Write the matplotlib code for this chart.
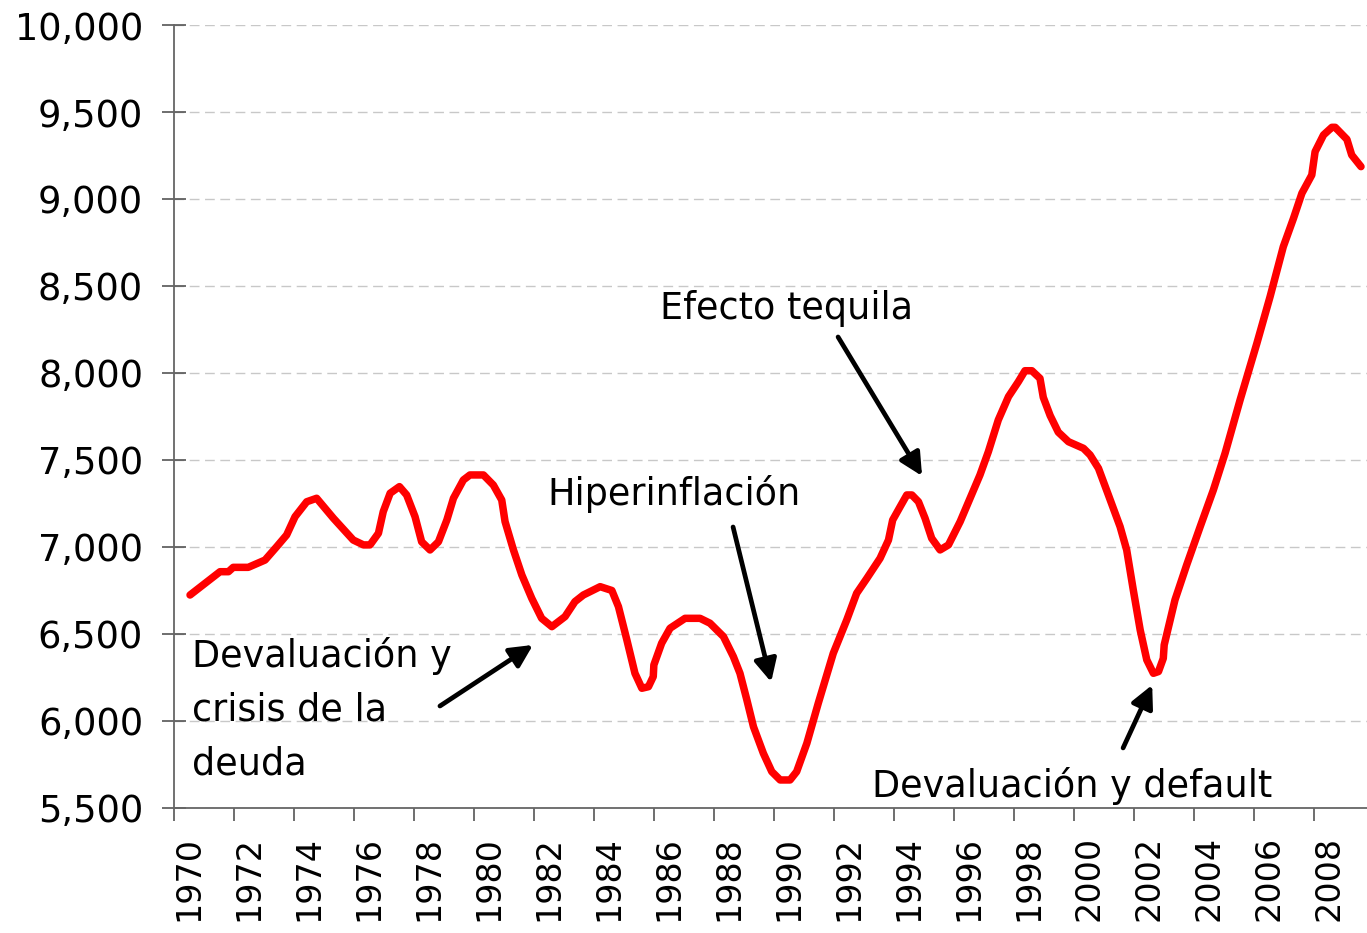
import matplotlib
matplotlib.use("Agg")
import matplotlib.pyplot as plt

plt.rcParams['font.family'] = ['DejaVu Sans']

# Data (year position, value)
years = [1970.00, 1971.00, 1971.28, 1971.44, 1971.94, 1972.50, 1972.89, 1973.22,
         1973.50, 1973.89, 1974.22, 1974.78, 1975.44, 1975.78, 1976.00, 1976.28,
         1976.44, 1976.67, 1976.98, 1977.22, 1977.50, 1977.72, 1978.00, 1978.28,
         1978.56, 1978.78, 1979.11, 1979.33, 1979.78, 1980.11, 1980.39, 1980.50,
         1980.78, 1981.06, 1981.39, 1981.72, 1982.06, 1982.50, 1982.83, 1983.11,
         1983.67, 1984.06, 1984.28, 1984.56, 1984.83, 1985.06, 1985.28, 1985.44,
         1985.46, 1985.72, 1986.00, 1986.50, 1987.00, 1987.33, 1987.78, 1988.11,
         1988.33, 1988.56, 1988.78, 1989.11, 1989.39, 1989.67, 1990.00, 1990.22,
         1990.56, 1990.94, 1991.44, 1991.89, 1992.22, 1992.56, 1993.00, 1993.28,
         1993.42, 1993.67, 1993.89, 1994.06, 1994.28, 1994.50, 1994.72, 1995.00,
         1995.28, 1995.67, 1996.00, 1996.33, 1996.61, 1996.94, 1997.28, 1997.61,
         1997.83, 1998.06, 1998.33, 1998.44, 1998.67, 1998.94, 1999.28, 1999.78,
         2000.00, 2000.28, 2000.61, 2001.00, 2001.22, 2001.44, 2001.67, 2001.89,
         2002.11, 2002.28, 2002.44, 2002.47, 2002.83, 2003.22, 2003.67, 2004.11,
         2004.50, 2005.00, 2005.56, 2006.00, 2006.44, 2006.78, 2007.06, 2007.39,
         2007.50, 2007.78, 2008.06, 2008.17, 2008.56, 2008.72, 2009.03]
values = [6724, 6858, 6858, 6883, 6883, 6925, 7002, 7069,
          7174, 7260, 7280, 7165, 7040, 7012, 7012, 7079,
          7203, 7309, 7347, 7299, 7174, 7030, 6983, 7030,
          7155, 7280, 7385, 7414, 7414, 7356, 7270, 7146,
          6983, 6839, 6705, 6590, 6542, 6600, 6686, 6724,
          6772, 6750, 6657, 6466, 6274, 6188, 6197, 6255,
          6322, 6447, 6533, 6590, 6590, 6562, 6485, 6370,
          6274, 6121, 5967, 5814, 5709, 5661, 5661, 5709,
          5872, 6102, 6389, 6581, 6734, 6820, 6935, 7040,
          7155, 7232, 7299, 7299, 7260, 7165, 7050, 6983,
          7012, 7146, 7280, 7414, 7548, 7730, 7864, 7950,
          8013, 8013, 7969, 7860, 7755, 7660, 7605, 7567,
          7529, 7452, 7299, 7117, 6983, 6753, 6523, 6351,
          6274, 6284, 6360, 6437, 6696, 6897, 7117, 7328,
          7539, 7845, 8171, 8439, 8726, 8889, 9033, 9138,
          9272, 9368, 9412, 9412, 9343, 9253, 9186]

tick_years = list(range(1970, 2009, 2))
tick_labels = [str(y) for y in tick_years]
y_ticks = list(range(5500, 10001, 500))

# (text, left x, first-line baseline, arrow start, arrow tip)
annotations = [
    ("Efecto tequila", 1985.67, 8310, (1991.6, 8207), (1994.4, 7408)),
    ("Hiperinflación", 1981.9, 7241, (1988.1, 7115), (1989.37, 6224)),
    ("Devaluación y\ncrisis de la\ndeuda", 1970.07, 6310, (1978.33, 6086), (1981.43, 6437)),
    ("Devaluación y default", 1992.73, 5563, (2001.1, 5845), (2002.07, 6207)),
]
LINE_STEP = 308  # value units between baselines of stacked lines

fig = plt.figure(figsize=(13.67, 9.33), dpi=100)
ax = fig.add_axes([0.1276, 0.134, 1.0 - 0.1276, 0.9732 - 0.134])

ax.plot(years, values, color='#FF0000', lw=5.4, solid_joinstyle='round',
        solid_capstyle='round', zorder=3)

ax.set_xlim(1969.48, 2009.23)
ax.set_ylim(5500, 10000)

# y axis
ax.set_yticks(y_ticks)
ax.set_yticklabels([f"{v:,}" for v in y_ticks])
ax.tick_params(axis='y', direction='inout', length=17, width=1.2, color='#555555',
               labelsize=26.5, labelcolor='black', pad=14)
ax.yaxis.grid(True, color='#C8C8C8', linestyle=(0, (7, 4)), linewidth=1.0, zorder=0)

# x axis: labels at years, tick marks offset between
ax.set_xticks([y - 0.05 for y in tick_years])
ax.set_xticklabels(tick_labels, rotation=90)
ax.tick_params(axis='x', length=0, labelsize=24, labelcolor='black', pad=20)
ax.set_xticks([y - 0.52 for y in tick_years], minor=True)
ax.tick_params(axis='x', which='minor', direction='out', length=9.5, width=1.2,
               color='#555555')

for side in ['top', 'right']:
    ax.spines[side].set_visible(False)
for side in ['left', 'bottom']:
    ax.spines[side].set_color('#666666')
    ax.spines[side].set_linewidth(1.3)

for text, tx, ty, start, tip in annotations:
    for i, line in enumerate(text.split('\n')):
        ax.text(tx, ty - i * LINE_STEP, line, fontsize=26.3, color='black',
                ha='left', va='baseline', zorder=4)
    ax.annotate('', xy=tip, xytext=start,
                arrowprops=dict(arrowstyle='-|>', color='black', lw=3.4,
                                mutation_scale=34, shrinkA=0, shrinkB=0),
                zorder=4)

fig.savefig('out.png', dpi=100)
